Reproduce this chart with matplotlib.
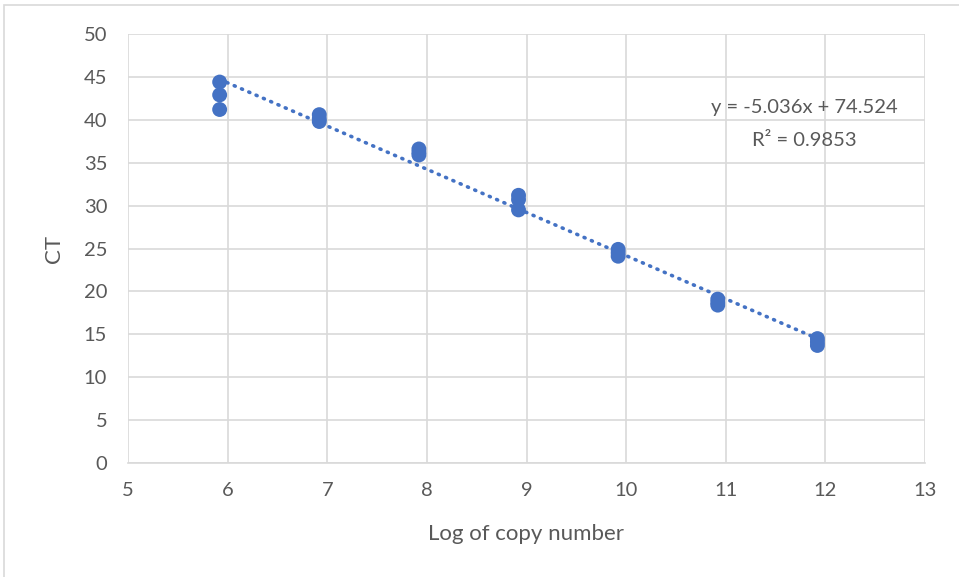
import matplotlib
matplotlib.use("Agg")
import matplotlib.pyplot as plt
from matplotlib.patches import Rectangle

log_copy = [5.92]*3 + [6.92]*3 + [7.92]*3 + [8.92]*3 + [9.92]*3 + [10.92]*3 + [11.92]*3
ct = [44.4, 42.9, 41.2,
      40.6, 40.1, 39.8,
      36.6, 36.2, 35.9,
      31.2, 30.7, 29.5,
      24.9, 24.5, 24.1,
      19.1, 18.7, 18.4,
      14.5, 14.1, 13.7]
slope = -5.036
intercept = 74.524
r2 = 0.9853
x_ticks = [5, 6, 7, 8, 9, 10, 11, 12, 13]
y_ticks = [0, 5, 10, 15, 20, 25, 30, 35, 40, 45, 50]

plt.rcParams['font.family'] = ['Lato', 'DejaVu Sans']
blue = '#4472C4'
txt = '#595959'

fig = plt.figure(figsize=(9.59, 5.77), dpi=100)
fig.patches.append(Rectangle((4/959, -0.01), 1.2, 1 - 5/577 + 0.01, transform=fig.transFigure,
                             fill=False, edgecolor='#D9D9D9', linewidth=1.2))
ax = fig.add_axes([128/959, 1 - 463/577, (925-128)/959, (463-34)/577])

ax.set_xlim(5, 13)
ax.set_ylim(0, 50)
ax.set_xticks(x_ticks)
ax.set_yticks(y_ticks)
ax.grid(True, color='#D9D9D9', linewidth=1.2)
ax.set_axisbelow(True)
for s in ['top', 'right', 'left']:
    ax.spines[s].set_visible(False)
ax.spines['bottom'].set_color('#D9D9D9')
ax.spines['bottom'].set_linewidth(1.2)
ax.tick_params(axis='x', length=0, labelsize=14.5, colors=txt, pad=14)
ax.tick_params(axis='y', length=0, labelsize=14.5, colors=txt, pad=15)

xmin, xmax = min(log_copy), max(log_copy)
ax.plot([xmin, xmax], [slope*xmin + intercept, slope*xmax + intercept],
        linestyle=(0, (0.3, 1.9)), color=blue, linewidth=2.6, dash_capstyle='round', zorder=2)
ax.scatter(log_copy, ct, s=115, color=blue, zorder=3, edgecolors='none')

ax.text(11.79, 41.4, f"y = {slope}x + {intercept}", ha='center', va='center', fontsize=14.5, color=txt)
ax.text(11.79, 37.6, f"R² = {r2}", ha='center', va='center', fontsize=14.5, color=txt)

ax.set_xlabel("Log of copy number", fontsize=16, color=txt, labelpad=18)
ax.set_ylabel("CT", fontsize=16, color=txt, labelpad=14)

fig.savefig("out.png", dpi=100)
